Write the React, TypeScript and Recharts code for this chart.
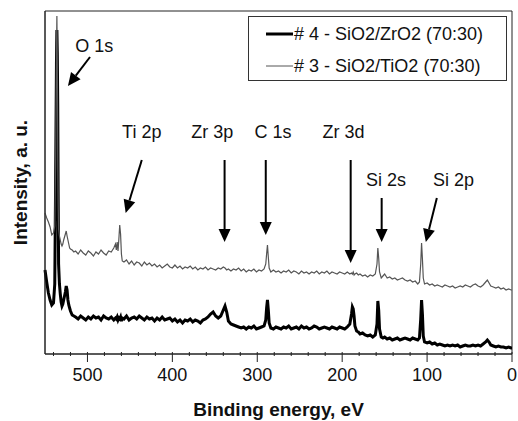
import React from 'react';
import { LineChart, Line, XAxis, YAxis, Legend, ReferenceLine, ReferenceDot, ReferenceArea } from 'recharts';

// Binding energy (eV)
const energy = [
  550, 548, 546, 544, 542, 540, 538.5, 537.5, 536.5, 536, 535.5, 535, 534.5, 534, 533, 532, 531, 530, 529, 528,
  527, 526, 525, 524, 523, 522, 521, 520, 518, 516, 514, 511, 508, 505, 502, 499, 496, 493, 490, 487,
  484, 481, 478, 475, 472, 469, 467, 466, 465, 464, 463, 462, 461, 460, 459, 457, 454, 451, 448, 445,
  442, 439, 436, 433, 430, 427, 424, 421, 418, 415, 412, 409, 406, 403, 400, 397, 394, 391, 388, 385,
  382, 379, 376, 373, 370, 367, 364, 361, 358, 355, 352, 349, 346, 343, 340, 338, 336, 334, 331, 328,
  325, 322, 319, 316, 313, 310, 307, 304, 301, 298, 295, 292, 290, 289, 288, 287, 286, 284, 281, 278,
  275, 272, 269, 266, 263, 260, 257, 254, 251, 248, 245, 242, 239, 236, 233, 230, 227, 224, 221, 218,
  215, 212, 209, 206, 203, 200, 197, 194, 191, 189, 188, 187, 186, 185, 183, 181, 179, 176, 173, 170,
  167, 164, 161, 159, 158, 157, 156, 154, 152, 150, 147, 144, 141, 138, 135, 132, 129, 126, 123, 120,
  117, 114, 111, 109, 107.5, 106.5, 105.5, 104.5, 103, 100, 97, 94, 91, 88, 85, 82, 79, 76, 73, 70,
  67, 64, 61, 58, 55, 52, 49, 46, 43, 40, 37, 34, 31, 29, 27, 25, 22, 19, 16, 13,
  10, 7, 4, 1, 0,
];

// # 4 - SiO2/ZrO2 (70:30)  (black)
const sampleZr = [
  84, 72, 61, 54, 49, 51, 70, 170, 290, 324, 300, 250, 160, 90, 70, 60, 52, 48, 50, 54,
  58, 62, 68, 64, 54, 49, 46, 43, 39, 38, 37, 35, 38, 36, 34, 37, 35, 38, 36, 37,
  34, 38, 36, 35, 37, 34, 36, 35, 37, 34, 36, 35, 37, 33, 36, 35, 38, 34, 36, 37,
  35, 38, 36, 34, 37, 35, 36, 33, 36, 34, 37, 34, 35, 36, 33, 35, 32, 34, 31, 34,
  33, 35, 32, 34, 33, 31, 34, 35, 37, 40, 42, 38, 36, 38, 44, 48, 42, 33, 30, 29,
  28, 27, 26, 27, 25, 27, 26, 28, 25, 26, 27, 28, 34, 46, 54, 44, 31, 26, 25, 27,
  26, 25, 27, 26, 28, 25, 26, 27, 25, 28, 26, 27, 25, 26, 28, 27, 25, 26, 27, 26,
  25, 27, 26, 25, 27, 26, 25, 27, 30, 40, 47, 45, 38, 28, 23, 22, 20, 21, 19, 18,
  19, 17, 19, 30, 53, 44, 25, 17, 16, 17, 15, 16, 14, 15, 16, 14, 15, 16, 15, 14,
  16, 15, 14, 16, 35, 54, 40, 18, 12, 11, 12, 10, 11, 9, 10, 9, 8, 9, 8, 9,
  8, 9, 7, 8, 9, 8, 8, 9, 8, 9, 8, 10, 12, 14, 12, 9, 8, 7, 8, 7,
  7, 6, 7, 6, 6,
];

// # 3 - SiO2/TiO2 (70:30)  (grey)
const sampleTi = [
  141, 136, 132, 127, 119, 121, 128, 190, 300, 338, 290, 200, 150, 125, 118, 114, 110, 108, 110, 114,
  117, 120, 123, 118, 114, 110, 106, 105, 104, 102, 103, 100, 104, 101, 99, 103, 101, 98, 102, 100,
  104, 101, 99, 103, 102, 106, 110, 104, 112, 103, 115, 129, 120, 100, 93, 92, 94, 90, 93, 89,
  92, 91, 88, 92, 89, 91, 88, 90, 87, 89, 86, 88, 90, 87, 86, 89, 86, 88, 85, 87,
  86, 88, 85, 87, 84, 86, 85, 87, 84, 86, 85, 84, 86, 85, 87, 86, 84, 85, 83, 85,
  84, 86, 83, 85, 82, 84, 83, 85, 82, 84, 83, 85, 90, 100, 109, 97, 86, 82, 84, 82,
  83, 81, 83, 82, 84, 81, 83, 82, 80, 83, 81, 82, 80, 82, 81, 83, 80, 82, 81, 83,
  80, 82, 81, 80, 82, 81, 80, 82, 80, 81, 80, 82, 79, 80, 81, 79, 80, 78, 79, 77,
  79, 78, 80, 90, 106, 96, 82, 76, 78, 80, 76, 77, 75, 76, 74, 75, 76, 74, 73, 74,
  72, 73, 70, 72, 90, 111, 95, 76, 70, 71, 69, 70, 68, 69, 68, 67, 69, 68, 67, 68,
  66, 67, 68, 67, 69, 68, 67, 69, 70, 68, 67, 69, 72, 74, 71, 68, 67, 66, 67, 65,
  66, 64, 65, 64, 64,
];

const majorTicks = [500, 400, 300, 200, 100, 0];
const minorTicks = [540, 520, 480, 460, 440, 420, 380, 360, 340, 320, 280, 260, 240, 220, 180, 160, 140, 120, 80, 60, 40, 20];

const seriesNames = ['# 4 - SiO2/ZrO2 (70:30)', '# 3 - SiO2/TiO2 (70:30)'];
const seriesOrder: Record<string, number> = { zr: 0, ti: 1 };

// Annotations: label position and arrow (tail -> head) in data coordinates (eV, intensity)
const annotations = [
  { text: 'O 1s', lx: 492, ly: 308, x1: 497, y1: 297, x2: 523, y2: 268 },
  { text: 'Ti 2p', lx: 436, ly: 222, x1: 436, y1: 194, x2: 455, y2: 141 },
  { text: 'Zr 3p', lx: 353, ly: 222, x1: 338.5, y1: 194, x2: 338.5, y2: 112 },
  { text: 'C 1s', lx: 281.5, ly: 222, x1: 290, y1: 194, x2: 290, y2: 119 },
  { text: 'Zr 3d', lx: 198.5, ly: 222, x1: 190, y1: 194, x2: 190, y2: 91 },
  { text: 'Si 2s', lx: 148.5, ly: 174, x1: 153.5, y1: 156, x2: 153.5, y2: 112 },
  { text: 'Si 2p', lx: 69, ly: 174, x1: 88.5, y1: 156, x2: 101.5, y2: 112 },
];

const rows = energy.map((e, i) => ({ energy: e, zr: sampleZr[i], ti: sampleTi[i] }));
const allTicks = [...majorTicks, ...minorTicks].sort((a, b) => b - a);

const FONT = '"Liberation Sans", Arial, Helvetica, sans-serif';

const Tick = (props: any) => {
  const { x, y, payload } = props;
  const v = payload.value;
  const major = majorTicks.includes(v);
  return (
    <g>
      <line x1={x} x2={x} y1={y - 2} y2={major ? y + 8 : y + 2} stroke="#222" strokeWidth={1} />
      {major && (
        <text x={x} y={y + 27} textAnchor="middle" fontSize={18} fill="#111" fontFamily={FONT}>
          {v}
        </text>
      )}
    </g>
  );
};

const Arrow = (p: any) => {
  const { x1, y1, x2, y2 } = p;
  const dx = x2 - x1;
  const dy = y2 - y1;
  const len = Math.hypot(dx, dy) || 1;
  const ux = dx / len;
  const uy = dy / len;
  const hl = 13;
  const hw = 6;
  const bx = x2 - ux * hl;
  const by = y2 - uy * hl;
  return (
    <g>
      <line x1={x1} y1={y1} x2={bx} y2={by} stroke="#000" strokeWidth={2} />
      <polygon
        points={`${x2},${y2} ${bx - uy * hw},${by + ux * hw} ${bx + uy * hw},${by - ux * hw}`}
        fill="#000"
      />
    </g>
  );
};

const LegendBox = (props: any) => {
  const payload = [...(props.payload || [])].sort(
    (a: any, b: any) => (seriesOrder[a.dataKey] ?? 0) - (seriesOrder[b.dataKey] ?? 0)
  );
  return (
    <div
      style={{
        border: '1px solid #333',
        width: 257,
        height: 62,
        background: '#fff',
        fontFamily: FONT,
        fontSize: 18,
        color: '#111',
        paddingTop: 1,
        boxSizing: 'content-box',
      }}
    >
      {payload.map((entry: any, i: number) => (
        <div key={i} style={{ height: 32, display: 'flex', alignItems: 'center' }}>
          <svg width={45} height={10} style={{ flex: 'none' }}>
            <line
              x1={17}
              x2={44}
              y1={5}
              y2={5}
              stroke={entry.color}
              strokeWidth={entry.dataKey === 'zr' ? 3 : 1}
            />
          </svg>
          <span style={{ whiteSpace: 'nowrap' }}>{entry.value}</span>
        </div>
      ))}
    </div>
  );
};

export default function App() {
  return (
    <div
      style={{
        position: 'absolute',
        left: 0,
        top: 0,
        width: 518,
        height: 421,
        background: '#fff',
        fontFamily: FONT,
      }}
    >
      <LineChart width={518} height={421} data={rows} margin={{ top: 11, right: 6, left: 0, bottom: 0 }}>
        <XAxis
          xAxisId="b"
          dataKey="energy"
          type="number"
          domain={[0, 550]}
          reversed
          ticks={allTicks}
          interval={0}
          tickLine={false}
          tickSize={0}
          tickMargin={0}
          tick={<Tick />}
          height={67}
          axisLine={{ stroke: '#222' }}
          label={{
            value: 'Binding energy, eV',
            position: 'insideBottom',
            offset: 5,
            fontSize: 19,
            fontWeight: 'bold',
            fill: '#111',
          }}
        />
        <YAxis
          yAxisId="l"
          width={45}
          type="number"
          domain={[0, 343]}
          tick={false}
          tickLine={false}
          axisLine={{ stroke: '#222' }}
          label={{
            content: (lp: any) => {
              const vb = lp.viewBox || { x: 0, y: 11, width: 45, height: 343 };
              const cx = vb.x + 20;
              const cy = vb.y + vb.height / 2;
              return (
                <text
                  x={cx}
                  y={cy}
                  transform={`rotate(-90 ${cx} ${cy})`}
                  textAnchor="middle"
                  dominantBaseline="central"
                  fontSize={19}
                  fontWeight="bold"
                  fill="#111"
                  fontFamily={FONT}
                >
                  Intensity, a. u.
                </text>
              );
            },
          }}
        />
        <ReferenceArea
          xAxisId="b"
          yAxisId="l"
          x1={0}
          x2={550}
          y1={0}
          y2={343}
          fill="none"
          fillOpacity={0}
          stroke="#222"
          strokeWidth={1}
          strokeOpacity={1}
        />
        <Legend
          layout="vertical"
          align="center"
          verticalAlign="middle"
          content={<LegendBox />}
          wrapperStyle={{ position: 'absolute', left: 248, top: 16, width: 259, height: 64 }}
        />
        <Line
          xAxisId="b"
          yAxisId="l"
          name={seriesNames[0]}
          dataKey="zr"
          type="linear"
          stroke="#000"
          strokeWidth={3}
          dot={false}
          isAnimationActive={false}
        />
        <Line
          xAxisId="b"
          yAxisId="l"
          name={seriesNames[1]}
          dataKey="ti"
          type="linear"
          stroke="#555"
          strokeWidth={1.2}
          dot={false}
          isAnimationActive={false}
        />
        {annotations.map((a, i) => (
          <ReferenceLine
            key={'ar' + i}
            xAxisId="b"
            yAxisId="l"
            segment={[
              { x: a.x1, y: a.y1 },
              { x: a.x2, y: a.y2 },
            ]}
            shape={Arrow}
          />
        ))}
        {annotations.map((a, i) => (
          <ReferenceDot
            key={'lb' + i}
            xAxisId="b"
            yAxisId="l"
            x={a.lx}
            y={a.ly}
            r={0}
            stroke="none"
            fill="none"
            label={{ value: a.text, position: 'center', fontSize: 18, fill: '#111' }}
          />
        ))}
      </LineChart>
    </div>
  );
}
